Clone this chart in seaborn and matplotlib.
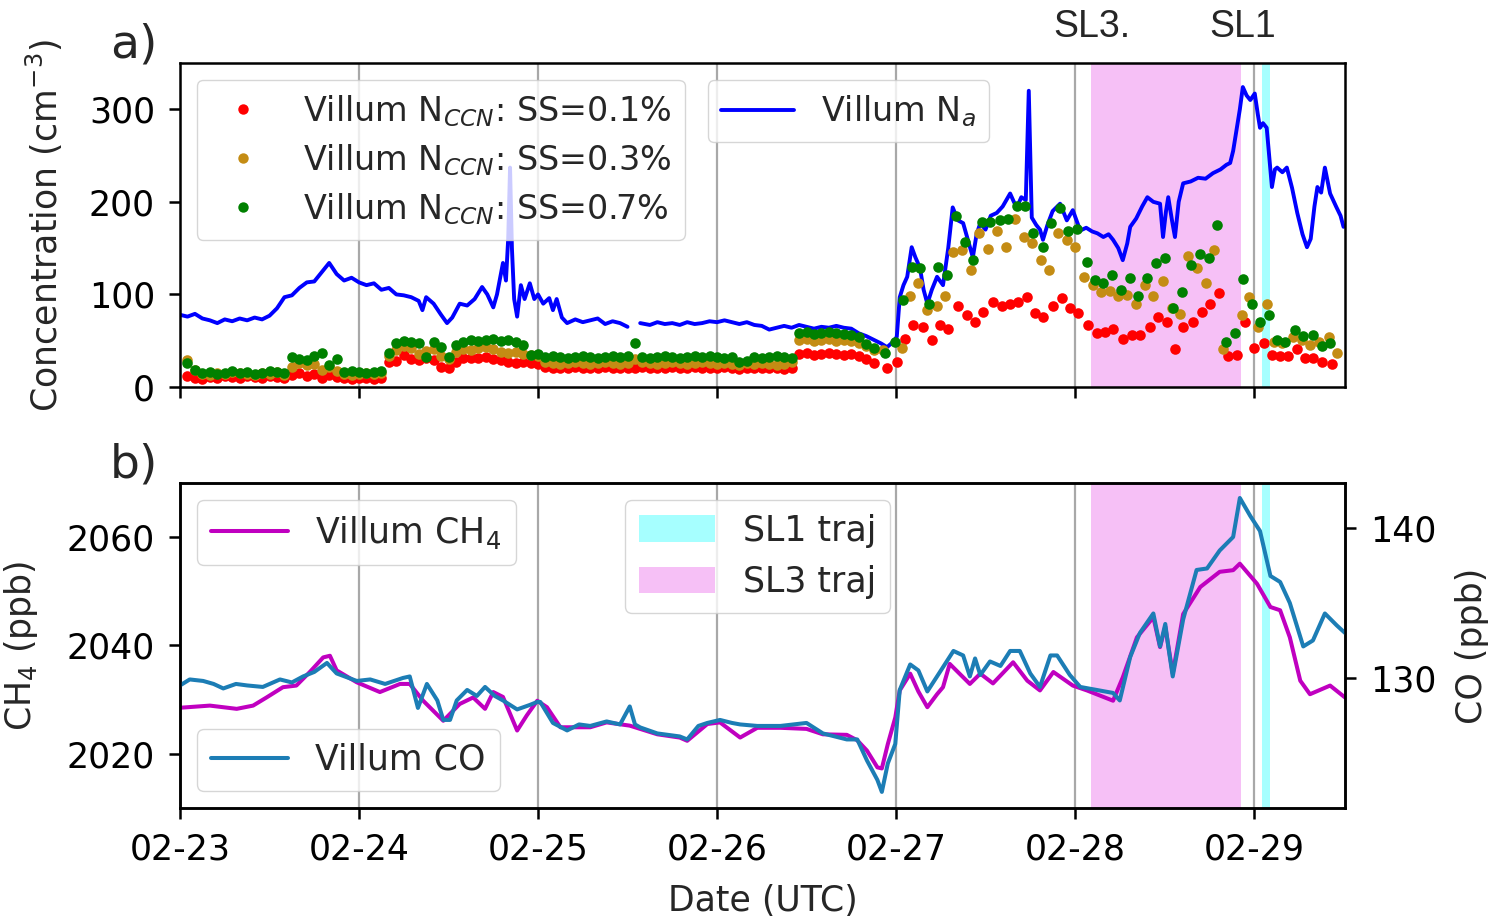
import numpy as np
import pandas as pd
import matplotlib
matplotlib.use("Agg")
import matplotlib.pyplot as plt
import matplotlib.dates as mdates
from matplotlib.lines import Line2D
from matplotlib.patches import Patch
import seaborn as sns

# ---------------------------------------------------------------- data
START = pd.Timestamp("2020-02-23 00:00")

# Total aerosol number concentration N_a (cm^-3); NaN marks a data gap
na_hours = [0, 1, 2, 3, 4, 5, 6, 7, 8, 9, 10, 11, 12, 13, 14, 15, 16, 17, 18, 19,
            20, 20.5, 21, 22, 23, 24, 25, 26, 27, 28, 29, 30, 31, 32, 32.5, 33, 34,
            35, 35.8, 36.5, 37.5, 38.5, 39.5, 40.5, 41.2, 42, 42.5, 43.3, 43.7, 44,
            44.25, 44.5, 44.8, 45.2, 45.7, 46.2, 46.9, 47.5, 48, 48.7, 49.5, 50,
            50.5, 51.2, 51.9, 53, 54, 55, 56, 57, 58, 59, 60, 60.8, 61.7, 63, 64,
            65, 66, 67, 68, 69, 70, 71, 72, 73, 74, 75, 76, 77, 78, 79, 80, 81, 82,
            83, 84, 85, 86, 87, 88, 89, 90, 91, 92, 93, 94, 94.8, 95.5, 96.1, 96.5,
            97, 97.5, 98.1, 98.6, 99.2, 99.7, 100.2, 100.8, 101.5, 102.3, 103,
            103.6, 104.3, 105, 105.6, 106.3, 106.8, 107.3, 108, 108.7, 109.5, 110.3,
            111.3, 111.8, 112.2, 112.8, 113.4, 113.8, 114.2, 114.8, 115.3, 115.7,
            116.3, 117, 118, 118.9, 119.7, 120.2, 120.7, 121.5, 122.3, 123, 123.8,
            124.5, 125.1, 125.8, 126.4, 127, 127.4, 128.2, 129, 129.7, 130.5, 131.4,
            131.8, 132.2, 132.5, 133, 133.4, 133.9, 134.5, 135.5, 136.5, 137.5,
            138.5, 139.5, 140.3, 140.8, 141.2, 141.7, 142.1, 142.5, 143, 143.5,
            144.1, 144.5, 144.8, 145.2, 145.7, 146.4, 146.8, 147.1, 147.8, 148.4,
            149.1, 149.8, 150.5, 151.1, 151.6, 152.1, 152.5, 153, 153.5, 154.2, 155,
            155.6, 156]
na_values = [78, 76, 79, 74, 72, 69, 73, 71, 74, 72, 75, 73, 77, 85, 97, 99, 107, 113,
             114, 124, 134, 128, 122, 115, 118, 113, 110, 112, 105, 107, 100, 99, 97,
             93, 83, 97, 90, 78, 69, 75, 90, 88, 95, 108, 100, 86, 100, 134, 115, 160,
             237, 150, 95, 76, 110, 95, 112, 95, 100, 90, 96, 83, 95, 75, 69, 73, 70,
             72, 74, 68, 71, 69, 65, np.nan, 69, 67, 70, 68, 69, 67, 70, 68, 69, 71,
             70, 72, 70, 68, 70, 67, 66, 62, 64, 66, 64, 67, 65, 63, 65, 64, 66, 64,
             63, 58, 55, 51, 47, 43, 48, 54, 97, 110, 119, 151, 140, 129, 105, 90,
             105, 119, 110, 150, 194, 180, 177, 160, 140, 165, 177, 170, 185, 188, 195,
             209, 200, 194, 205, 202, 320, 183, 175, 170, 159, 175, 190, 198, 180, 191,
             180, 169, 172, 168, 166, 162, 165, 159, 150, 137, 155, 173, 182, 195, 205,
             200, 198, 162, 190, 205, 180, 162, 200, 220, 222, 226, 225, 231, 235, 240,
             242, 255, 280, 300, 324, 315, 310, 317, 295, 280, 285, 280, 216, 235, 237,
             232, 237, 215, 188, 165, 151, 160, 195, 216, 210, 237, 209, 195, 185, 173]

# CCN number concentrations, hourly samples for the first days
ccn_hours_early = list(range(1, 94))
ss01_early = [12, 10, 9, 11, 10, 12, 11, 10, 12, 11, 10, 12, 11, 10,
              13, 15, 12, 14, 10, 13, 11,
              10, 9, 10, 10, 9, 10,
              27, 28, 35, 30, 29, 31, 29, 22, 20, 27, 31, 31, 31, 32, 30, 29, 27, 26, 27, 26, 25,
              22, 21, 20, 21, 22, 20, 21, 20, 22, 21, 20, 21, 20, 22, 21, 20, 21, 22, 20, 21,
              22, 21, 20, 21, 22, 20, 19, 21, 20, 20, 21, 20, 19, 20,
              36, 37, 35, 36, 37, 36, 35, 36, 34, 30, 26]
ss03_early = [29, 18, 14, 13, 15, 14, 16, 15, 14, 13, 15, 14, 16, 13,
              22, 26, 24, 25, 18, 22, 17,
              14, 13, 14, 15, 14, 15,
              33, 40, 44, 42, 36, 39, 41, 34, 30, 38, 41, 40, 42, 43, 41, 38, 37, 38, 36, 35, 33,
              27, 26, 25, 26, 27, 26, 25, 26, 27, 26, 25, 26, 30, 27, 26, 25, 26, 27, 26, 25,
              26, 27, 26, 25, 26, 25, 24, 26, 25, 26, 25, 24, 25, 27,
              51, 52, 50, 51, 52, 50, 51, 50, 48, 44, 40]
ss07_early = [26, 18, 15, 16, 14, 15, 17, 15, 16, 14, 15, 17, 16, 15,
              32, 30, 29, 33, 37, 24, 30,
              16, 17, 16, 15, 16, 17,
              37, 48, 50, 49, 47, 32, 49, 43, 32, 45, 49, 51, 50, 51, 52, 50, 51, 49, 45, 35, 36,
              32, 33, 32, 31, 32, 33, 32, 31, 32, 33, 32, 33, 48, 32, 31, 32, 33, 32, 31, 32,
              33, 32, 33, 32, 31, 32, 27, 28, 32, 31, 32, 33, 32, 31,
              58, 59, 57, 58, 59, 58, 57, 56, 54, 46, 42]

# CCN samples from 27 Feb onwards
ss01_late_hours = [94.8, 96.1, 97.2, 98.3, 99.6, 100.8, 101.9, 103, 104.3, 105.5,
                   106.6, 107.7, 109, 110.2, 111.3, 112.4, 113.6, 114.6, 115.7, 117.1,
                   118.2, 119.3, 120.4, 121.7, 122.9, 124, 125.1, 126.4, 127.6, 128.7,
                   130, 131.1, 132.3, 133.4, 134.5, 135.8, 137, 138.1, 139.3, 140.5,
                   141.7, 142.8, 144, 145.3, 146.4, 147.5, 148.6, 149.8, 150.8, 151.9,
                   153.1, 154.5]
ss01_late = [20, 27, 52, 67, 65, 51, 67, 63, 87, 78,
             70, 81, 92, 87, 90, 92, 97, 80, 76, 88,
             96, 85, 80, 67, 58, 59, 63, 52, 56, 56,
             65, 76, 70, 41, 65, 70, 81, 90, 101, 33,
             35, 70, 42, 47, 35, 33, 33, 41, 31, 31,
             27, 25]
ss03_late_hours = [94.3, 96.8, 97.9, 99, 100.2, 101.5, 102.6, 103.6, 104.8, 106,
                   107.1, 108.3, 109.5, 110.8, 112, 113.1, 114.2, 115.4, 116.5, 117.7,
                   118.9, 120, 121.2, 122.4, 123.5, 124.7, 125.8, 127, 128.2, 129.4,
                   130.5, 131.8, 133, 134.1, 135.2, 136.4, 137.6, 138.6, 139.8, 142.4,
                   143.3, 144.5, 145.7, 146.7, 147.8, 149.2, 150.4, 151.5, 152.7, 154,
                   155.1]
ss03_late = [40, 42, 98, 112, 83, 87, 98, 146, 148, 126,
             166, 149, 168, 151, 181, 162, 155, 137, 126, 166,
             159, 151, 119, 110, 103, 104, 98, 99, 90, 110,
             98, 114, 85, 79, 141, 129, 112, 148, 41, 78,
             97, 65, 90, 49, 47, 54, 51, 45, 49, 54,
             37]
ss07_late_hours = [94.5, 95.9, 97, 98.1, 99.2, 100.4, 101.6, 102.8, 104, 105.2,
                   106.3, 107.5, 108.6, 109.9, 111, 112.2, 113.3, 114.4, 115.7, 116.8,
                   118, 119.1, 120.3, 121.6, 122.7, 123.8, 125, 126.2, 127.4, 128.4,
                   129.7, 130.9, 132.1, 133.1, 134.3, 135.6, 136.8, 137.9, 139, 140.3,
                   141.5, 142.5, 143.7, 144.8, 146, 147.1, 148.2, 149.5, 150.6, 151.9,
                   153.1, 154.2]
ss07_late = [37, 49, 94, 130, 128, 90, 130, 121, 185, 157,
             137, 178, 178, 180, 182, 195, 196, 166, 151, 177,
             193, 169, 171, 135, 116, 112, 121, 105, 118, 98,
             118, 134, 139, 85, 103, 132, 144, 139, 175, 49,
             58, 117, 90, 70, 78, 51, 49, 62, 55, 56,
             44, 47]

# Methane (ppb)
ch4_hours = [0, 4, 7.6, 9.8, 11.6, 13.8, 15.6, 17.4, 19.2, 20.1, 21, 23.7, 26.8,
             29.5, 30.8, 32.6, 35.3, 37.5, 39.3, 40.9, 42, 43.3, 45.2, 46.5, 47.9,
             49.2, 51, 55, 57.2, 60.3, 64, 67, 68, 70.7, 72.4, 75.1, 77.4, 80.5,
             84, 86.2, 89.4, 90.8, 92.1, 93.5, 94.1, 94.9, 95.9, 96.5, 97.9, 99,
             100.2, 101.5, 102.3, 103.2, 105.9, 107.3, 109, 111.7, 113.6, 115.3,
             117.1, 119.7, 121.6, 125.1, 126.4, 128.3, 130.5, 131.4, 132.1, 133.1,
             134.5, 136.8, 139.4, 141.2, 142.1, 144.4, 146.2, 147.5, 148.8, 150.2,
             151.5, 154.2, 156.2]
ch4_values = [2028.5, 2028.9, 2028.3, 2028.9, 2030.4, 2032.3, 2032.6, 2035.1, 2037.8,
              2038.1, 2035.4, 2033.2, 2031.4, 2032.9, 2032.9, 2029.8, 2026.1, 2029.2,
              2030.4, 2028.3, 2031.4, 2030.5, 2024.3, 2027.1, 2029.8, 2028.6, 2024.9,
              2024.9, 2025.8, 2025.2, 2023.6, 2023.0, 2022.4, 2025.5, 2025.8, 2023.0,
              2024.8, 2024.8, 2024.6, 2023.6, 2023.5, 2022.5, 2020.6, 2017.5, 2017.3,
              2021.8, 2026.7, 2031.7, 2034.8, 2031.5, 2028.6, 2031.0, 2032.3, 2036.6,
              2032.9, 2034.8, 2033.0, 2036.9, 2033.5, 2031.7, 2035.1, 2032.6, 2031.7,
              2029.8, 2034.1, 2041.5, 2045.2, 2039.7, 2043.5, 2034.8, 2045.8, 2050.8,
              2053.6, 2053.9, 2055.1, 2051.4, 2047.1, 2046.5, 2041.5, 2033.5, 2031.0,
              2032.6, 2030.4]

# Carbon monoxide (ppb)
co_hours = [0, 1.3, 3.1, 4.5, 5.8, 7.5, 9, 11.1, 13.4, 15, 16.5, 18, 19.7, 21,
            23.7, 25.5, 27.5, 29.9, 30.8, 31.9, 33.1, 34.5, 35.3, 36.2, 37.1, 38.5,
            39.8, 40.9, 42.2, 43.3, 45.2, 46.9, 47.9, 48.3, 50, 51.9, 53.5, 55,
            57.2, 59, 60.3, 61, 61.7, 64, 67, 68, 69.5, 70.7, 72.4, 74, 75.1, 77.4,
            80.5, 84, 86.2, 89.4, 90.8, 92.1, 93.5, 94.1, 94.9, 95.9, 96.5, 97.9,
            99, 100.2, 101.5, 103.7, 105, 105.9, 106.6, 107.3, 108.6, 110, 111.3,
            112.6, 114, 115.3, 116.7, 117.6, 119.3, 120.7, 122.9, 125.1, 126,
            127.4, 128.7, 130.5, 131.4, 132.1, 132.5, 133.1, 134.5, 136.3, 137.7,
            139.4, 141.2, 142.1, 143.5, 144.8, 146.2, 147.5, 148.8, 150.6, 151.9,
            153.5, 155.1, 156.2]
co_values = [129.5, 129.9, 129.8, 129.6, 129.3, 129.6, 129.5, 129.4, 129.9, 129.7,
             130.1, 130.4, 131.0, 130.3, 129.8, 129.9, 129.6, 130.0, 130.1, 128.0,
             129.6, 128.5, 127.2, 127.2, 128.5, 129.2, 128.8, 129.4, 128.8, 128.5,
             127.9, 128.2, 128.4, 128.4, 127.0, 126.5, 126.9, 126.8, 127.1, 126.9,
             128.1, 126.9, 126.7, 126.3, 126.1, 125.9, 126.8, 127.0, 127.2, 127.0,
             126.9, 126.8, 126.8, 127.0, 126.3, 125.9, 125.9, 124.5, 123.2, 122.4,
             124.3, 125.6, 129.2, 130.9, 130.5, 129.1, 130.1, 131.8, 131.5, 130.1,
             131.3, 130.2, 131.1, 130.8, 131.8, 131.8, 130.3, 129.4, 131.5, 131.5,
             130.2, 129.4, 129.2, 129.0, 128.5, 131.4, 133.0, 134.3, 132.1, 133.6,
             132.1, 130.1, 133.9, 137.2, 137.3, 138.5, 139.4, 142.0, 140.8, 139.8,
             136.8, 136.4, 135.0, 132.1, 132.5, 134.3, 133.5, 133.0]

# Trajectory windows (hours after START)
sl3_window = (122.1, 142.3)
sl1_window = (145.05, 146.15)
x_end_hours = 156.2

# ---------------------------------------------------------------- helpers
def to_time(hours):
    return START + pd.to_timedelta(np.asarray(hours, dtype=float), unit="h")


na = pd.DataFrame({"time": to_time(na_hours), "value": na_values})
na["segment"] = na["value"].isna().cumsum()
na = na.dropna()

ccn_specs = [
    ("red", ccn_hours_early + ss01_late_hours, ss01_early + ss01_late),
    ("#c48c14", ccn_hours_early + ss03_late_hours, ss03_early + ss03_late),
    ("#008000", ccn_hours_early + ss07_late_hours, ss07_early + ss07_late),
]
ch4 = pd.DataFrame({"time": to_time(ch4_hours), "value": ch4_values})
co = pd.DataFrame({"time": to_time(co_hours), "value": co_values})

# ---------------------------------------------------------------- style
sns.set_theme(style="ticks")
plt.rcParams.update({
    "font.family": ["DejaVu Sans"],
    "mathtext.fontset": "dejavusans",
    "font.size": 25,
    "axes.linewidth": 1.8,
    "axes.edgecolor": "black",
    "xtick.major.size": 8,
    "ytick.major.size": 8,
    "xtick.major.width": 1.8,
    "ytick.major.width": 1.8,
    "xtick.major.pad": 10,
    "ytick.major.pad": 10,
    "xtick.labelsize": 25,
    "ytick.labelsize": 25,
    "axes.labelsize": 25,
    "xtick.color": "black",
    "ytick.color": "black",
    "legend.fontsize": 25,
})

fig = plt.figure(figsize=(14.89, 9.17), dpi=100)
ax_a = fig.add_axes([0.1209, 0.5780, 0.7824, 0.3533])
ax_b = fig.add_axes([0.1209, 0.1189, 0.7824, 0.3544])

x0, x1 = START, START + pd.Timedelta(hours=x_end_hours)
grid_kw = dict(color="#a8a8a8", linewidth=1.6)


def shade(ax):
    ax.axvspan(*to_time(sl3_window), color="violet", alpha=0.5, lw=0, zorder=0)
    ax.axvspan(*to_time(sl1_window), color="cyan", alpha=0.35, lw=0, zorder=0)


# ---------------------------------------------------------------- panel a
shade(ax_a)
sns.lineplot(data=na, x="time", y="value", units="segment", estimator=None,
             color="blue", linewidth=2.8, ax=ax_a, legend=False, zorder=2)
for color, hrs, vals in ccn_specs:
    sns.scatterplot(x=to_time(hrs), y=vals, color=color, s=58, linewidth=0,
                    ax=ax_a, legend=False, zorder=3)

ax_a.set_xlim(x0, x1)
ax_a.set_ylim(0, 350)
ax_a.set_yticks([0, 100, 200, 300])
ax_a.set_ylabel("Concentration (cm$^{-3}$)")
ax_a.yaxis.set_label_coords(-0.099, 0.5)
ax_a.set_xlabel("")
ax_a.xaxis.set_major_locator(mdates.DayLocator())
ax_a.tick_params(axis="x", labelbottom=False)
ax_a.grid(axis="x", **grid_kw)
ax_a.set_axisbelow(True)

ccn_labels = ["Villum N$_{CCN}$: SS=0.1%", "Villum N$_{CCN}$: SS=0.3%",
              "Villum N$_{CCN}$: SS=0.7%"]
ccn_handles = [Line2D([], [], ls="", marker="o", markersize=7.5,
                      markerfacecolor=c, markeredgewidth=0, color=c)
               for c, _, _ in ccn_specs]
leg1 = ax_a.legend(ccn_handles, ccn_labels, loc="upper left", frameon=True,
                   fontsize=24, handlelength=2.0, labelspacing=0.4)
ax_a.add_artist(leg1)
ax_a.legend([Line2D([], [], color="blue", lw=2.8)], ["Villum N$_a$"],
            loc="upper left", bbox_to_anchor=(0.453, 0.948), borderaxespad=0,
            frameon=True, fontsize=24, handlelength=2.2)

# ---------------------------------------------------------------- panel b
shade(ax_b)
sns.lineplot(data=ch4, x="time", y="value", color="#c000c0", linewidth=2.9,
             ax=ax_b, legend=False, zorder=2)
ax_b.set_xlim(x0, x1)
ax_b.set_ylim(2010, 2070)
ax_b.set_yticks([2020, 2040, 2060])
ax_b.set_ylabel("CH$_4$ (ppb)")
ax_b.yaxis.set_label_coords(-0.120, 0.5)
ax_b.set_xlabel("Date (UTC)", labelpad=12)
ax_b.xaxis.set_major_locator(mdates.DayLocator())
ax_b.xaxis.set_major_formatter(mdates.DateFormatter("%m-%d"))
ax_b.grid(axis="x", **grid_kw)
ax_b.set_axisbelow(True)

ax_co = ax_b.twinx()
sns.lineplot(data=co, x="time", y="value", color="#1c7db5", linewidth=2.9,
             ax=ax_co, legend=False)
ax_co.set_ylim(121.33, 143)
ax_co.set_yticks([130, 140])
ax_co.set_ylabel("CO (ppb)")
ax_co.yaxis.set_label_coords(1.094, 0.5)
ax_co.set_xlim(x0, x1)

leg_ch4 = ax_co.legend([Line2D([], [], color="#c000c0", lw=2.9)], ["Villum CH$_4$"],
                       loc="upper left", frameon=True, handlelength=2.2)
ax_co.add_artist(leg_ch4)
leg_sl = ax_co.legend([Patch(facecolor="cyan", alpha=0.35, lw=0),
                       Patch(facecolor="violet", alpha=0.5, lw=0)],
                      ["SL1 traj", "SL3 traj"], loc="upper left",
                      bbox_to_anchor=(0.382, 0.948), borderaxespad=0,
                      frameon=True, handlelength=2.2, handleheight=0.8)
ax_co.add_artist(leg_sl)
ax_co.legend([Line2D([], [], color="#1c7db5", lw=2.9)], ["Villum CO"],
             loc="lower left", frameon=True, handlelength=2.2)

# ---------------------------------------------------------------- annotations
fig.text(134 / 1489, 1 - 45 / 917, "a)", ha="center", va="center", fontsize=34)
fig.text(134 / 1489, 1 - 465 / 917, "b)", ha="center", va="center", fontsize=34)
fig.text(1092 / 1489, 1 - 27 / 917, "SL3.", ha="center", va="center",
         fontsize=27, family=["Liberation Sans", "DejaVu Sans"])
fig.text(1243 / 1489, 1 - 27 / 917, "SL1", ha="center", va="center",
         fontsize=27, family=["Liberation Sans", "DejaVu Sans"])

fig.savefig("out.png", dpi=100)
